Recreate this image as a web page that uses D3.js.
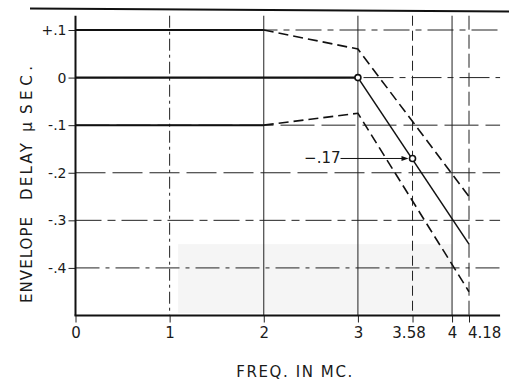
<!DOCTYPE html>
<html><head><meta charset="utf-8">
<script src="https://cdn.jsdelivr.net/npm/d3@7"></script>
<style>
body{margin:0;background:#fff;}
svg{display:block;}
text{font-family:"DejaVu Sans",sans-serif;fill:#1a1a1a;}
</style></head>
<body>
<svg id="c" width="509" height="381"></svg>
<script>
// ---- data ----
const xTicks = [0, 1, 2, 3, 3.58, 4, 4.18];
const xTickLabels = ["0", "1", "2", "3", "3.58", "4", "4.18"];
const yTicks = [0.1, 0, -0.1, -0.2, -0.3, -0.4];
const yTickLabels = ["+.1", "0", "-.1", "-.2", "-.3", "-.4"];
const limitFreq = [0, 2, 3, 4.18];
const upperLimit = [0.1, 0.1, 0.06, -0.25];
const lowerLimit = [-0.1, -0.1, -0.075, -0.45];
const nominalFreq = [0, 3, 4.18];
const nominalDelay = [0, 0, -0.35];
const markedPoints = [[3, 0], [3.58, -0.17]];
const annotation = {label: "\u2212.17", x: 3.58, y: -0.17};

const svg = d3.select("#c");
const x = d3.scaleLinear().domain([0, 4.18]).range([75.5, 469]);
const y = d3.scaleLinear().domain([-0.5, 0.1]).range([315.5, 30]);
const xEnd = 4.51, yTop = 0.13;

// scan artifact shading
svg.append("rect").attr("x", x(1.09)).attr("y", y(-0.35)).attr("width", x(4) - x(1.09))
  .attr("height", y(-0.495) - y(-0.35)).attr("fill", "#f5f5f5");

// top border (cropped)
svg.append("line").attr("x1", 30).attr("y1", 8.5).attr("x2", 509).attr("y2", 11.5)
  .attr("stroke", "#111").attr("stroke-width", 2);

// horizontal grid lines
const hDash = ["26,6,6,6", "30,6,6,6", "34,7", "30,7", "26,6,8,6", "24,6,4,6"];
yTicks.forEach((v, i) => {
  svg.append("line").attr("x1", x(0)).attr("x2", x(xEnd)).attr("y1", y(v)).attr("y2", y(v))
    .attr("stroke", "#222").attr("stroke-width", 1).attr("stroke-dasharray", hDash[i]);
});
// vertical grid lines
const vDash = {1: "12,4,3,4", 2: null, 3: null, 3.58: "10,5", 4: null, 4.18: "14,5"};
xTicks.slice(1).forEach(v => {
  svg.append("line").attr("x1", x(v)).attr("x2", x(v)).attr("y1", y(yTop)).attr("y2", y(-0.5))
    .attr("stroke", "#222").attr("stroke-width", 1)
    .attr("stroke-dasharray", vDash[v]);
});

// axes
const xAxis = d3.axisBottom(x).tickValues(xTicks).tickFormat((d, i) => xTickLabels[i])
  .tickSize(7).tickSizeOuter(0).tickPadding(5);
const gx = svg.append("g").attr("transform", `translate(0,${y(-0.5)})`).call(xAxis);
gx.select(".domain").remove();
gx.selectAll(".tick line").attr("stroke", "#222");
gx.selectAll("text").attr("font-size", 15).attr("fill", "#1a1a1a");
// nudge crowded labels like the reference
gx.selectAll(".tick text").filter(d => d === 4.18).attr("text-anchor", "start").attr("dx", -1.5);
gx.selectAll(".tick text").filter(d => d === 3.58).attr("dx", -4);

const yAxis = d3.axisLeft(y).tickValues(yTicks).tickFormat((d, i) => yTickLabels[i])
  .tickSize(7).tickSizeOuter(0).tickPadding(2);
const gy = svg.append("g").attr("transform", `translate(${x(0)},0)`).call(yAxis);
gy.select(".domain").remove();
gy.selectAll(".tick line").attr("stroke", "#222");
gy.selectAll("text").attr("font-size", 14).attr("fill", "#1a1a1a");

svg.append("line").attr("x1", x(0)).attr("x2", x(0)).attr("y1", y(yTop)).attr("y2", y(-0.5))
  .attr("stroke", "#111").attr("stroke-width", 2);
svg.append("line").attr("x1", x(0) - 1).attr("x2", x(xEnd)).attr("y1", y(-0.5)).attr("y2", y(-0.5))
  .attr("stroke", "#111").attr("stroke-width", 2);

// data lines
const line = d3.line().x(d => x(d[0])).y(d => y(d[1]));
function series(fr, vals) { return fr.map((f, i) => [f, vals[i]]); }
const up = series(limitFreq, upperLimit), lo = series(limitFreq, lowerLimit);
[up, lo].forEach(s => {
  svg.append("path").attr("d", line(s.slice(0, 2))).attr("fill", "none")
    .attr("stroke", "#111").attr("stroke-width", 2);
  svg.append("path").attr("d", line(s.slice(1))).attr("fill", "none")
    .attr("stroke", "#111").attr("stroke-width", 1.6).attr("stroke-dasharray", "10,5");
});
const nom = series(nominalFreq, nominalDelay);
svg.append("path").attr("d", line(nom.slice(0, 2))).attr("fill", "none")
  .attr("stroke", "#111").attr("stroke-width", 2.2);
svg.append("path").attr("d", line(nom.slice(1))).attr("fill", "none")
  .attr("stroke", "#111").attr("stroke-width", 1.5);

// annotation arrow
const ax = x(annotation.x), ay = y(annotation.y);
svg.append("line").attr("x1", ax - 72).attr("x2", ax - 8).attr("y1", ay).attr("y2", ay)
  .attr("stroke", "#111").attr("stroke-width", 1);
svg.append("path").attr("d", `M${ax - 4},${ay} L${ax - 11},${ay - 2.5} L${ax - 11},${ay + 2.5} Z`)
  .attr("fill", "#111");
svg.append("text").attr("x", ax - 72).attr("y", ay + 5).attr("text-anchor", "end")
  .attr("font-size", 15).text(annotation.label);

// marked points
svg.selectAll("circle.pt").data(markedPoints).enter().append("circle")
  .attr("cx", d => x(d[0])).attr("cy", d => y(d[1])).attr("r", 3)
  .attr("fill", "#fff").attr("stroke", "#111").attr("stroke-width", 1.6);

// axis titles
svg.append("text").attr("x", 295).attr("y", 377).attr("text-anchor", "middle")
  .attr("font-size", 15).attr("letter-spacing", 1.6).text("FREQ. IN MC.");
const words = [["ENVELOPE", 260, 86], ["DELAY", 171.5, 57], ["\u03BC", 127, 10], ["SEC.", 90, 48]];
words.forEach(w => {
  svg.append("text").attr("transform", `translate(32,${w[1]}) rotate(-90)`)
    .attr("text-anchor", "middle").attr("font-size", 15)
    .attr("textLength", w[2]).attr("lengthAdjust", "spacing").text(w[0]);
});
</script>
</body></html>
